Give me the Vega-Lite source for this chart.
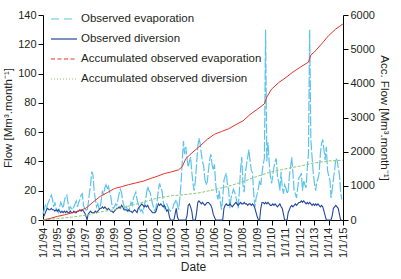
{
"$schema": "https://vega.github.io/schema/vega-lite/v6.json",
"width": 300, "height": 205,
"autosize": {"type": "none"},
"padding": {"left": 43, "top": 15, "right": 58, "bottom": 59},
"config": {
  "view": {"stroke": null},
  "font": "Liberation Sans",
  "axis": {"grid": false, "domainColor": "#000", "tickColor": "#000", "labelColor": "#231f20", "titleColor": "#231f20", "labelFontSize": 11, "titleFontSize": 11.5, "titleFontWeight": "normal", "tickSize": 5, "labelPadding": 2, "domainWidth": 1, "tickWidth": 1, "labelOverlap": false},
  "legend": {"labelFontSize": 11.5, "labelColor": "#231f20", "labelLimit": 0}
},
"datasets": {
"monthly": [
{"date":"1994-01-01","evap":4,"div":2},{"date":"1994-02-01","evap":7,"div":3},{"date":"1994-03-01","evap":10,"div":5},{"date":"1994-04-01","evap":8,"div":7},{"date":"1994-05-01","evap":11,"div":8},{"date":"1994-06-01","evap":13,"div":7},{"date":"1994-07-01","evap":15,"div":7},{"date":"1994-08-01","evap":17,"div":8},{"date":"1994-09-01","evap":14,"div":7},{"date":"1994-10-01","evap":9,"div":7},{"date":"1994-11-01","evap":12,"div":6},{"date":"1994-12-01","evap":8,"div":7},
{"date":"1995-01-01","evap":6,"div":6},{"date":"1995-02-01","evap":5,"div":7},{"date":"1995-03-01","evap":9,"div":6},{"date":"1995-04-01","evap":12,"div":5},{"date":"1995-05-01","evap":10,"div":6},{"date":"1995-06-01","evap":8,"div":5},{"date":"1995-07-01","evap":13,"div":6},{"date":"1995-08-01","evap":16,"div":5},{"date":"1995-09-01","evap":17,"div":6},{"date":"1995-10-01","evap":12,"div":5},{"date":"1995-11-01","evap":7,"div":5},{"date":"1995-12-01","evap":9,"div":6},
{"date":"1996-01-01","evap":8,"div":5},{"date":"1996-02-01","evap":7,"div":5},{"date":"1996-03-01","evap":9,"div":6},{"date":"1996-04-01","evap":11,"div":5},{"date":"1996-05-01","evap":13,"div":5},{"date":"1996-06-01","evap":9,"div":6},{"date":"1996-07-01","evap":12,"div":6},{"date":"1996-08-01","evap":14,"div":7},{"date":"1996-09-01","evap":17,"div":6},{"date":"1996-10-01","evap":18,"div":7},{"date":"1996-11-01","evap":10,"div":6},{"date":"1996-12-01","evap":8,"div":5},
{"date":"1997-01-01","evap":7,"div":3},{"date":"1997-02-01","evap":6,"div":0},{"date":"1997-03-01","evap":11,"div":4},{"date":"1997-04-01","evap":18,"div":5},{"date":"1997-05-01","evap":24,"div":6},{"date":"1997-06-01","evap":33,"div":5},{"date":"1997-07-01","evap":31,"div":5},{"date":"1997-08-01","evap":20,"div":5},{"date":"1997-09-01","evap":14,"div":6},{"date":"1997-10-01","evap":9,"div":5},{"date":"1997-11-01","evap":11,"div":6},{"date":"1997-12-01","evap":8,"div":7},
{"date":"1998-01-01","evap":9,"div":8},{"date":"1998-02-01","evap":14,"div":8},{"date":"1998-03-01","evap":20,"div":9},{"date":"1998-04-01","evap":17,"div":8},{"date":"1998-05-01","evap":22,"div":9},{"date":"1998-06-01","evap":24,"div":8},{"date":"1998-07-01","evap":21,"div":7},{"date":"1998-08-01","evap":23,"div":8},{"date":"1998-09-01","evap":19,"div":7},{"date":"1998-10-01","evap":16,"div":6},{"date":"1998-11-01","evap":10,"div":6},{"date":"1998-12-01","evap":8,"div":5},
{"date":"1999-01-01","evap":9,"div":6},{"date":"1999-02-01","evap":11,"div":7},{"date":"1999-03-01","evap":10,"div":8},{"date":"1999-04-01","evap":14,"div":8},{"date":"1999-05-01","evap":18,"div":9},{"date":"1999-06-01","evap":21,"div":8},{"date":"1999-07-01","evap":19,"div":10},{"date":"1999-08-01","evap":13,"div":9},{"date":"1999-09-01","evap":10,"div":7},{"date":"1999-10-01","evap":7,"div":7},{"date":"1999-11-01","evap":9,"div":7},{"date":"1999-12-01","evap":7,"div":6},
{"date":"2000-01-01","evap":6,"div":7},{"date":"2000-02-01","evap":9,"div":6},{"date":"2000-03-01","evap":12,"div":6},{"date":"2000-04-01","evap":10,"div":5},{"date":"2000-05-01","evap":15,"div":6},{"date":"2000-06-01","evap":17,"div":7},{"date":"2000-07-01","evap":19,"div":6},{"date":"2000-08-01","evap":14,"div":5},{"date":"2000-09-01","evap":11,"div":8},{"date":"2000-10-01","evap":8,"div":9},{"date":"2000-11-01","evap":6,"div":10},{"date":"2000-12-01","evap":7,"div":11},
{"date":"2001-01-01","evap":5,"div":10},{"date":"2001-02-01","evap":10,"div":9},{"date":"2001-03-01","evap":13,"div":10},{"date":"2001-04-01","evap":18,"div":9},{"date":"2001-05-01","evap":23,"div":10},{"date":"2001-06-01","evap":20,"div":8},{"date":"2001-07-01","evap":19,"div":7},{"date":"2001-08-01","evap":15,"div":6},{"date":"2001-09-01","evap":11,"div":5},{"date":"2001-10-01","evap":8,"div":5},{"date":"2001-11-01","evap":6,"div":5},{"date":"2001-12-01","evap":9,"div":6},
{"date":"2002-01-01","evap":14,"div":9},{"date":"2002-02-01","evap":21,"div":11},{"date":"2002-03-01","evap":25,"div":10},{"date":"2002-04-01","evap":22,"div":11},{"date":"2002-05-01","evap":20,"div":10},{"date":"2002-06-01","evap":13,"div":9},{"date":"2002-07-01","evap":8,"div":10},{"date":"2002-08-01","evap":10,"div":8},{"date":"2002-09-01","evap":11,"div":6},{"date":"2002-10-01","evap":9,"div":7},{"date":"2002-11-01","evap":7,"div":3},{"date":"2002-12-01","evap":6,"div":0},
{"date":"2003-01-01","evap":7,"div":0},{"date":"2003-02-01","evap":8,"div":0},{"date":"2003-03-01","evap":11,"div":0},{"date":"2003-04-01","evap":12,"div":4},{"date":"2003-05-01","evap":14,"div":8},{"date":"2003-06-01","evap":10,"div":2},{"date":"2003-07-01","evap":7,"div":0},{"date":"2003-08-01","evap":15,"div":0},{"date":"2003-09-01","evap":25,"div":0},{"date":"2003-10-01","evap":40,"div":0},{"date":"2003-11-01","evap":54,"div":0},{"date":"2003-12-01","evap":45,"div":0},
{"date":"2004-01-01","evap":50,"div":0},{"date":"2004-02-01","evap":42,"div":3},{"date":"2004-03-01","evap":36,"div":10},{"date":"2004-04-01","evap":40,"div":11},{"date":"2004-05-01","evap":43,"div":9},{"date":"2004-06-01","evap":33,"div":6},{"date":"2004-07-01","evap":25,"div":0},{"date":"2004-08-01","evap":20,"div":0},{"date":"2004-09-01","evap":27,"div":0},{"date":"2004-10-01","evap":38,"div":5},{"date":"2004-11-01","evap":50,"div":12},{"date":"2004-12-01","evap":56,"div":13},
{"date":"2005-01-01","evap":52,"div":12},{"date":"2005-02-01","evap":45,"div":11},{"date":"2005-03-01","evap":40,"div":12},{"date":"2005-04-01","evap":37,"div":11},{"date":"2005-05-01","evap":28,"div":10},{"date":"2005-06-01","evap":24,"div":11},{"date":"2005-07-01","evap":26,"div":12},{"date":"2005-08-01","evap":34,"div":12},{"date":"2005-09-01","evap":41,"div":11},{"date":"2005-10-01","evap":45,"div":10},{"date":"2005-11-01","evap":38,"div":8},{"date":"2005-12-01","evap":34,"div":4},
{"date":"2006-01-01","evap":38,"div":2},{"date":"2006-02-01","evap":25,"div":0},{"date":"2006-03-01","evap":18,"div":0},{"date":"2006-04-01","evap":14,"div":0},{"date":"2006-05-01","evap":20,"div":0},{"date":"2006-06-01","evap":12,"div":0},{"date":"2006-07-01","evap":7,"div":0},{"date":"2006-08-01","evap":15,"div":0},{"date":"2006-09-01","evap":27,"div":8},{"date":"2006-10-01","evap":30,"div":10},{"date":"2006-11-01","evap":32,"div":11},{"date":"2006-12-01","evap":24,"div":10},
{"date":"2007-01-01","evap":20,"div":10},{"date":"2007-02-01","evap":8,"div":11},{"date":"2007-03-01","evap":15,"div":10},{"date":"2007-04-01","evap":18,"div":9},{"date":"2007-05-01","evap":21,"div":10},{"date":"2007-06-01","evap":19,"div":11},{"date":"2007-07-01","evap":16,"div":12},{"date":"2007-08-01","evap":12,"div":11},{"date":"2007-09-01","evap":8,"div":10},{"date":"2007-10-01","evap":20,"div":11},{"date":"2007-11-01","evap":35,"div":12},{"date":"2007-12-01","evap":43,"div":11},
{"date":"2008-01-01","evap":24,"div":11},{"date":"2008-02-01","evap":19,"div":12},{"date":"2008-03-01","evap":32,"div":11},{"date":"2008-04-01","evap":38,"div":11},{"date":"2008-05-01","evap":43,"div":10},{"date":"2008-06-01","evap":48,"div":11},{"date":"2008-07-01","evap":40,"div":11},{"date":"2008-08-01","evap":34,"div":10},{"date":"2008-09-01","evap":32,"div":11},{"date":"2008-10-01","evap":18,"div":10},{"date":"2008-11-01","evap":9,"div":8},{"date":"2008-12-01","evap":15,"div":5},
{"date":"2009-01-01","evap":18,"div":2},{"date":"2009-02-01","evap":22,"div":0},{"date":"2009-03-01","evap":27,"div":0},{"date":"2009-04-01","evap":24,"div":8},{"date":"2009-05-01","evap":32,"div":12},{"date":"2009-06-01","evap":38,"div":12},{"date":"2009-07-01","evap":42,"div":11},{"date":"2009-08-01","evap":130,"div":12},{"date":"2009-09-01","evap":40,"div":11},{"date":"2009-10-01","evap":53,"div":12},{"date":"2009-11-01","evap":39,"div":11},{"date":"2009-12-01","evap":30,"div":10},
{"date":"2010-01-01","evap":25,"div":10},{"date":"2010-02-01","evap":30,"div":11},{"date":"2010-03-01","evap":36,"div":10},{"date":"2010-04-01","evap":40,"div":11},{"date":"2010-05-01","evap":42,"div":10},{"date":"2010-06-01","evap":30,"div":9},{"date":"2010-07-01","evap":26,"div":10},{"date":"2010-08-01","evap":20,"div":11},{"date":"2010-09-01","evap":33,"div":9},{"date":"2010-10-01","evap":22,"div":8},{"date":"2010-11-01","evap":18,"div":4},{"date":"2010-12-01","evap":24,"div":0},
{"date":"2011-01-01","evap":22,"div":0},{"date":"2011-02-01","evap":18,"div":0},{"date":"2011-03-01","evap":20,"div":5},{"date":"2011-04-01","evap":30,"div":7},{"date":"2011-05-01","evap":36,"div":9},{"date":"2011-06-01","evap":43,"div":10},{"date":"2011-07-01","evap":32,"div":9},{"date":"2011-08-01","evap":20,"div":10},{"date":"2011-09-01","evap":18,"div":11},{"date":"2011-10-01","evap":15,"div":10},{"date":"2011-11-01","evap":22,"div":11},{"date":"2011-12-01","evap":29,"div":12},
{"date":"2012-01-01","evap":30,"div":12},{"date":"2012-02-01","evap":32,"div":13},{"date":"2012-03-01","evap":20,"div":12},{"date":"2012-04-01","evap":27,"div":13},{"date":"2012-05-01","evap":24,"div":12},{"date":"2012-06-01","evap":22,"div":11},{"date":"2012-07-01","evap":35,"div":12},{"date":"2012-08-01","evap":45,"div":11},{"date":"2012-09-01","evap":130,"div":12},{"date":"2012-10-01","evap":55,"div":11},{"date":"2012-11-01","evap":43,"div":10},{"date":"2012-12-01","evap":32,"div":11},
{"date":"2013-01-01","evap":25,"div":10},{"date":"2013-02-01","evap":20,"div":11},{"date":"2013-03-01","evap":26,"div":10},{"date":"2013-04-01","evap":28,"div":11},{"date":"2013-05-01","evap":32,"div":10},{"date":"2013-06-01","evap":45,"div":9},{"date":"2013-07-01","evap":52,"div":10},{"date":"2013-08-01","evap":55,"div":9},{"date":"2013-09-01","evap":48,"div":6},{"date":"2013-10-01","evap":41,"div":3},{"date":"2013-11-01","evap":50,"div":0},{"date":"2013-12-01","evap":34,"div":0},
{"date":"2014-01-01","evap":30,"div":0},{"date":"2014-02-01","evap":27,"div":0},{"date":"2014-03-01","evap":15,"div":0},{"date":"2014-04-01","evap":21,"div":3},{"date":"2014-05-01","evap":28,"div":8},{"date":"2014-06-01","evap":34,"div":9},{"date":"2014-07-01","evap":42,"div":10},{"date":"2014-08-01","evap":41,"div":9},{"date":"2014-09-01","evap":36,"div":8},{"date":"2014-10-01","evap":31,"div":4},{"date":"2014-11-01","evap":19,"div":0},{"date":"2014-12-01","evap":14,"div":0}
],
"accEvap": [
{"date":"1994-01-01","acc":0},{"date":"1994-07-01","acc":45},{"date":"1995-01-01","acc":105},{"date":"1995-07-01","acc":150},{"date":"1996-01-01","acc":205},{"date":"1996-07-01","acc":265},{"date":"1997-01-01","acc":345},{"date":"1997-07-01","acc":520},{"date":"1998-01-01","acc":690},{"date":"1998-07-01","acc":800},{"date":"1999-01-01","acc":920},{"date":"1999-07-01","acc":975},{"date":"2000-01-01","acc":1035},{"date":"2000-07-01","acc":1085},{"date":"2001-01-01","acc":1135},{"date":"2001-07-01","acc":1210},{"date":"2002-01-01","acc":1280},{"date":"2002-07-01","acc":1360},{"date":"2003-01-01","acc":1410},{"date":"2003-07-01","acc":1470},{"date":"2003-10-01","acc":1560},{"date":"2004-01-01","acc":1800},{"date":"2004-07-01","acc":1990},{"date":"2005-01-01","acc":2170},{"date":"2005-07-01","acc":2360},{"date":"2006-01-01","acc":2510},{"date":"2006-07-01","acc":2590},{"date":"2007-01-01","acc":2670},{"date":"2007-07-01","acc":2790},{"date":"2008-01-01","acc":2900},{"date":"2008-07-01","acc":3090},{"date":"2009-01-01","acc":3240},{"date":"2009-07-01","acc":3400},{"date":"2009-09-01","acc":3600},{"date":"2010-01-01","acc":3830},{"date":"2010-07-01","acc":4020},{"date":"2011-01-01","acc":4170},{"date":"2011-07-01","acc":4330},{"date":"2012-01-01","acc":4470},{"date":"2012-08-01","acc":4620},{"date":"2012-10-01","acc":4830},{"date":"2013-01-01","acc":4920},{"date":"2013-07-01","acc":5150},{"date":"2014-01-01","acc":5400},{"date":"2014-07-01","acc":5590},{"date":"2015-01-01","acc":5740}
],
"accDiv": [
{"date":"1994-01-01","acc":0},{"date":"1995-01-01","acc":40},{"date":"1996-01-01","acc":85},{"date":"1997-01-01","acc":140},{"date":"1998-01-01","acc":235},{"date":"1999-01-01","acc":305},{"date":"2000-01-01","acc":405},{"date":"2001-01-01","acc":520},{"date":"2002-01-01","acc":640},{"date":"2003-01-01","acc":710},{"date":"2004-01-01","acc":745},{"date":"2005-01-01","acc":800},{"date":"2006-01-01","acc":890},{"date":"2007-01-01","acc":990},{"date":"2008-01-01","acc":1120},{"date":"2009-01-01","acc":1280},{"date":"2010-01-01","acc":1410},{"date":"2011-01-01","acc":1500},{"date":"2012-01-01","acc":1580},{"date":"2013-01-01","acc":1670},{"date":"2014-01-01","acc":1730},{"date":"2015-01-01","acc":1750}
]
},
"layer": [
 {"layer": [
  {"data": {"name": "monthly"},
   "mark": {"type": "line", "strokeWidth": 1.2, "strokeDash": [10, 2]},
   "encoding": {
    "x": {"field": "date", "type": "temporal", "scale": {"type": "utc", "domain": [{"year": 1994, "month": 1, "date": 1, "utc": true}, {"year": 2015, "month": 1, "date": 1, "utc": true}], "nice": false}, "axis": {"title": "Date", "format": "%-m/%-d/%y", "labelAngle": 270, "tickCount": {"interval": "year", "step": 1}, "titlePadding": 4, "titleFontSize": 12, "labelFlush": false}},
    "y": {"field": "evap", "type": "quantitative", "scale": {"domain": [0, 140], "nice": false}, "axis": {"orient": "left", "title": "Flow [Mm³.month⁻¹]", "values": [0, 20, 40, 60, 80, 100, 120, 140], "titlePadding": 4}},
    "color": {"datum": "Observed evaporation", "type": "nominal",
      "scale": {"domain": ["Observed evaporation", "Observed diversion", "Accumulated observed evaporation", "Accumulated observed diversion"], "range": ["#5cc3ec", "#24479a", "#e6332a", "#8cc878"]},
      "legend": {"title": null, "orient": "none", "legendX": 7, "legendY": -10, "symbolType": "stroke", "symbolSize": 676, "symbolStrokeWidth": 1.2, "rowPadding": -5, "labelOffset": 3,
        "encode": {"symbols": {"update": {"strokeDash": {"signal": "datum.value === 'Observed evaporation' ? [8,5] : datum.value === 'Accumulated observed evaporation' ? [4,2.5] : datum.value === 'Accumulated observed diversion' ? [1,2] : [30,0]"}}}}}}
   }},
  {"data": {"name": "monthly"},
   "mark": {"type": "line", "strokeWidth": 1.1},
   "encoding": {
    "x": {"field": "date", "type": "temporal"},
    "y": {"field": "div", "type": "quantitative", "axis": {"orient": "left", "title": "Flow [Mm³.month⁻¹]", "values": [0, 20, 40, 60, 80, 100, 120, 140], "titlePadding": 4}},
    "color": {"datum": "Observed diversion", "type": "nominal"}
   }}
 ]},
 {"layer": [
  {"data": {"name": "accEvap"},
   "mark": {"type": "line", "strokeWidth": 1},
   "encoding": {
    "x": {"field": "date", "type": "temporal"},
    "y": {"field": "acc", "type": "quantitative", "scale": {"domain": [0, 6000], "nice": false}, "axis": {"orient": "right", "title": "Acc. Flow [Mm³.month⁻¹]", "format": "d", "values": [0, 1000, 2000, 3000, 4000, 5000, 6000], "titlePadding": 4}},
    "color": {"datum": "Accumulated observed evaporation", "type": "nominal"}
   }},
  {"data": {"name": "accDiv"},
   "mark": {"type": "line", "strokeWidth": 1, "strokeDash": [3, 1.5]},
   "encoding": {
    "x": {"field": "date", "type": "temporal"},
    "y": {"field": "acc", "type": "quantitative", "axis": {"orient": "right", "title": "Acc. Flow [Mm³.month⁻¹]", "format": "d", "values": [0, 1000, 2000, 3000, 4000, 5000, 6000], "titlePadding": 4}},
    "color": {"datum": "Accumulated observed diversion", "type": "nominal"}
   }}
 ]}
],
"resolve": {"scale": {"y": "independent"}}
}
